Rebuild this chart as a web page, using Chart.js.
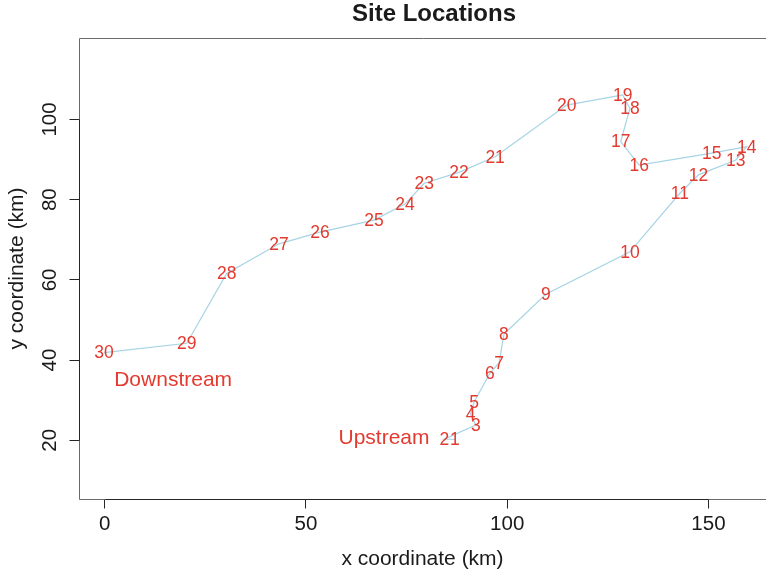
<!DOCTYPE html>
<html>
<head>
<meta charset="utf-8">
<script src="https://cdn.jsdelivr.net/npm/chart.js@4.4.1/dist/chart.umd.min.js"></script>
<style>
  html, body { margin: 0; padding: 0; background: #ffffff; }
  #wrap { width: 766px; height: 574px; }
</style>
</head>
<body>
<div id="wrap"><canvas id="c" width="766" height="574"></canvas></div>
<script>
// Sampling sites along the river, numbered from the source (1) to the mouth (30)
const siteLabels = ['1','2','3','4','5','6','7','8','9','10',
                    '11','12','13','14','15','16','17','18','19','20',
                    '21','22','23','24','25','26','27','28','29','30'];
// x coordinate (km)
const siteX = [87.0, 84.4, 92.2, 90.9, 91.8, 95.7, 98.0, 99.2, 109.6, 130.5,
               142.9, 147.5, 156.8, 159.5, 150.8, 132.8, 128.2, 130.5, 128.7, 114.8,
               97.0, 88.0, 79.4, 74.6, 66.9, 53.5, 43.3, 30.3, 20.4, -0.2];
// y coordinate (km)
const siteY = [20.2, 20.3, 23.8, 26.5, 29.6, 36.7, 39.35, 46.5, 56.4, 67.0,
               81.6, 86.2, 89.9, 93.2, 91.6, 88.65, 94.5, 102.8, 106.1, 103.6,
               90.7, 86.8, 84.1, 78.9, 74.9, 71.9, 69.0, 61.6, 44.2, 41.85];

const xTicks = [0, 50, 100, 150];
const yTicks = [20, 40, 60, 80, 100];

// Free text placed in data coordinates
const notes = [
  { text: 'Upstream',   x: 69.4, y: 20.7 },
  { text: 'Downstream', x: 17.0, y: 35.3 }
];

const FONT = '"Liberation Sans", Arial, Helvetica, sans-serif';
const RED = '#e33a2f';
const INK = '#1a1a1a';

// Plot frame (open on the right, where the plot runs off the page)
// plus the darker axis lines spanning the tick range
const framePlugin = {
  id: 'frame',
  beforeDatasetsDraw(chart) {
    const { ctx, chartArea: a, scales, width } = chart;
    ctx.save();
    ctx.lineWidth = 1;
    ctx.strokeStyle = '#6a6a6a';
    ctx.beginPath();
    ctx.moveTo(width + 2, a.top + 0.5);
    ctx.lineTo(a.left + 0.5, a.top + 0.5);
    ctx.lineTo(a.left + 0.5, a.bottom + 0.5);
    ctx.lineTo(width + 2, a.bottom + 0.5);
    ctx.stroke();
    ctx.strokeStyle = '#262626';
    ctx.beginPath();
    const x0 = scales.x.getPixelForValue(xTicks[0]);
    const x1 = scales.x.getPixelForValue(xTicks[xTicks.length - 1]);
    ctx.moveTo(Math.round(x0) + 0.5, a.bottom + 0.5);
    ctx.lineTo(Math.round(x1) + 0.5, a.bottom + 0.5);
    const y0 = scales.y.getPixelForValue(yTicks[0]);
    const y1 = scales.y.getPixelForValue(yTicks[yTicks.length - 1]);
    ctx.moveTo(a.left + 0.5, Math.round(y0) + 0.5);
    ctx.lineTo(a.left + 0.5, Math.round(y1) + 0.5);
    ctx.stroke();
    ctx.restore();
  }
};

// Site numbers at each point, and the free text notes
const labelPlugin = {
  id: 'siteLabels',
  afterDatasetsDraw(chart) {
    const { ctx, scales } = chart;
    const meta = chart.getDatasetMeta(0);
    ctx.save();
    ctx.fillStyle = RED;
    ctx.textAlign = 'center';
    ctx.textBaseline = 'middle';
    ctx.font = '17.5px ' + FONT;
    meta.data.forEach((el, i) => ctx.fillText(siteLabels[i], el.x, el.y + 1));
    ctx.font = '21px ' + FONT;
    notes.forEach(n => ctx.fillText(n.text, scales.x.getPixelForValue(n.x), scales.y.getPixelForValue(n.y) + 1));
    ctx.restore();
  }
};

// Main heading
const headingPlugin = {
  id: 'heading',
  afterDraw(chart) {
    const { ctx } = chart;
    ctx.save();
    ctx.fillStyle = INK;
    ctx.font = 'bold 24px ' + FONT;
    ctx.textAlign = 'center';
    ctx.textBaseline = 'middle';
    ctx.fillText('Site Locations', 434, 14.4);
    ctx.restore();
  }
};

const axisCommon = {
  type: 'linear',
  border: { display: false },
  grid: { display: true, drawOnChartArea: false, drawTicks: true, tickLength: 9.5, color: '#262626', lineWidth: 1 },
};

new Chart(document.getElementById('c'), {
  type: 'scatter',
  data: {
    datasets: [{
      data: siteX.map((x, i) => ({ x: x, y: siteY[i] })),
      showLine: true,
      borderColor: '#a6d4e4',
      borderWidth: 1.2,
      pointRadius: 0,
      pointHoverRadius: 0,
      tension: 0,
      fill: false
    }]
  },
  options: {
    responsive: false,
    animation: false,
    events: [],
    layout: { padding: { top: 38, right: 0, bottom: 0, left: 0 } },
    plugins: { legend: { display: false }, tooltip: { enabled: false }, title: { display: false } },
    scales: {
      x: Object.assign({}, axisCommon, {
        min: -6.385, max: 164.3,
        afterBuildTicks: s => { s.ticks = xTicks.map(v => ({ value: v })); },
        afterFit: s => { s.height = 75; },
        ticks: { font: { family: FONT, size: 20.5 }, color: INK, padding: 3.8, minRotation: 0, maxRotation: 0, autoSkip: false },
        title: { display: true, text: 'x coordinate (km)', font: { family: FONT, size: 21 }, color: INK, padding: { top: 0, bottom: 2 } }
      }),
      y: Object.assign({}, axisCommon, {
        min: 5.36, max: 120.32,
        afterBuildTicks: s => { s.ticks = yTicks.map(v => ({ value: v })); },
        afterFit: s => { s.width = 79; },
        ticks: { font: { family: FONT, size: 20.5 }, color: INK, padding: 2.3, minRotation: 90, maxRotation: 90, crossAlign: 'center', autoSkip: false },
        title: { display: true, text: 'y coordinate (km)', font: { family: FONT, size: 21 }, color: INK, padding: { top: 5.1, bottom: 0 } }
      })
    }
  },
  plugins: [framePlugin, labelPlugin, headingPlugin]
});
</script>
</body>
</html>
